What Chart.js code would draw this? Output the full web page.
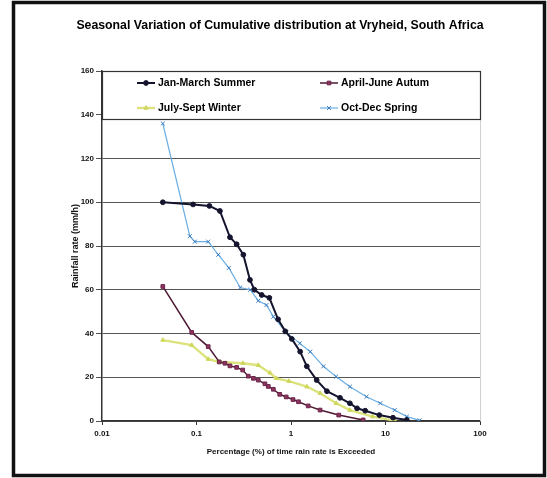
<!DOCTYPE html>
<html>
<head>
<meta charset="utf-8">
<script src="https://cdn.jsdelivr.net/npm/chart.js@4.4.1/dist/chart.umd.min.js"></script>
<style>
  html, body { margin: 0; padding: 0; background: #fff; }
  #wrap { width: 547px; height: 478px; position: relative; }
</style>
</head>
<body>
<div id="wrap"><canvas id="c" width="547" height="478"></canvas></div>
<script>
// Text
const chartTitle = 'Seasonal Variation of Cumulative distribution at Vryheid, South Africa';
const xAxisTitle = 'Percentage (%) of time rain rate is Exceeded';
const yAxisTitle = 'Rainfall rate (mm/h)';
const seriesNames = ['Jan-March Summer', 'April-June Autum', 'July-Sept Winter', 'Oct-Dec Spring'];

// Axis ticks
const xTicks = [0.01, 0.1, 1, 10, 100];
const xTickLabels = ['0.01', '0.1', '1', '10', '100'];
const yMin = 0, yMax = 160, yStep = 20;

// Percentage of time exceeded (x) and rain rate in mm/h (y), per season
const summerX = [0.044, 0.092, 0.137, 0.177, 0.226, 0.266, 0.313, 0.368, 0.41, 0.49, 0.59, 0.73, 0.87, 1.02, 1.25, 1.47, 1.87, 2.4, 3.3, 4.2, 5.0, 6.1, 8.6, 12, 16.8];
const summerY = [100, 99, 98.3, 96, 84, 80.8, 76, 64.5, 60, 57.6, 56.3, 46.5, 41, 37.5, 31.7, 25, 18.7, 13.6, 10.6, 8.1, 5.8, 4.7, 2.7, 1.5, 0.5];

const autumnX = [0.044, 0.089, 0.133, 0.174, 0.2, 0.226, 0.266, 0.308, 0.353, 0.4, 0.45, 0.53, 0.575, 0.65, 0.76, 0.89, 1.05, 1.2, 1.52, 2.03, 3.2, 5.8];
const autumnY = [61.5, 40.5, 34, 27, 26.4, 25.2, 24.5, 23.3, 20.5, 19.5, 18.7, 17, 15.8, 14.5, 12.2, 11, 9.8, 8.8, 6.9, 5, 2.7, 0.5];

const winterX = [0.044, 0.089, 0.133, 0.174, 0.31, 0.45, 0.6, 0.7, 0.95, 1.47, 2.03, 3.0, 4.2, 7.3, 12.5];
const winterY = [37, 34.7, 28.3, 27, 26.4, 25.5, 22, 19.5, 18.2, 15.7, 12.7, 8.1, 5, 2, 0.2];

const springX = [0.044, 0.085, 0.096, 0.133, 0.17, 0.22, 0.29, 0.37, 0.45, 0.55, 0.65, 0.89, 1.24, 1.6, 2.2, 3.0, 4.2, 6.3, 8.8, 12.5, 16.8, 23];
const springY = [136, 84.5, 82, 82, 76, 70, 61, 60, 55, 53, 47.7, 40.5, 35.5, 31.7, 25, 20.3, 15.7, 11.1, 8.1, 5, 2, 0.3];

const pairs = (xs, ys) => xs.map((x, i) => ({ x: x, y: ys[i] }));

const FONT = '"Liberation Sans", Arial, sans-serif';

const datasets = [
  {
    label: seriesNames[0], data: pairs(summerX, summerY),
    borderColor: '#14142e', backgroundColor: '#14142e', borderWidth: 2,
    pointStyle: 'circle', pointRadius: 2.4, pointBorderColor: '#14142e', pointBorderWidth: 1
  },
  {
    label: seriesNames[1], data: pairs(autumnX, autumnY),
    borderColor: '#4e1833', backgroundColor: '#8a3560', borderWidth: 1.5,
    pointStyle: 'rect', pointRadius: 2.6, pointBorderColor: '#6e2549', pointBorderWidth: 1
  },
  {
    label: seriesNames[2], data: pairs(winterX, winterY),
    borderColor: '#dde37c', backgroundColor: '#cfd75e', borderWidth: 2.4,
    pointStyle: 'triangle', pointRadius: 2.4, pointBorderColor: '#cfd75e', pointBorderWidth: 1
  },
  {
    label: seriesNames[3], data: pairs(springX, springY),
    borderColor: '#6aaee4', backgroundColor: '#3b7cbd', borderWidth: 1.2,
    pointStyle: 'crossRot', pointRadius: 2.8, pointBorderColor: '#3b7cbd', pointBorderWidth: 1
  }
];

// Chart title, outer frame and the boxed legend inside the plot
const decorations = {
  id: 'decorations',
  afterDatasetsDraw(chart) {
    const ctx = chart.ctx;
    const area = chart.chartArea;
    ctx.save();
    // faint right edge of the plot
    ctx.strokeStyle = '#d0d0d0';
    ctx.lineWidth = 1;
    ctx.beginPath();
    ctx.moveTo(area.right + 0.5, area.top);
    ctx.lineTo(area.right + 0.5, area.bottom);
    ctx.stroke();

    // legend box
    const bx = area.left, by = area.top, bw = area.right - area.left + 1, bh = 48;
    ctx.fillStyle = '#fff';
    ctx.fillRect(bx, by, bw, bh);
    ctx.strokeStyle = '#333';
    ctx.lineWidth = 1.2;
    ctx.strokeRect(bx + 0.5, by + 0.5, bw - 1, bh);

    const cols = [area.left + 35, area.left + 218];
    const rows = [area.top + 12, area.top + 37];
    ctx.font = 'bold 10.5px ' + FONT;
    ctx.textBaseline = 'middle';
    chart.data.datasets.forEach((ds, i) => {
      const x0 = cols[i % 2], y0 = rows[Math.floor(i / 2)];
      ctx.strokeStyle = ds.borderColor;
      ctx.lineWidth = ds.borderWidth;
      ctx.beginPath();
      ctx.moveTo(x0, y0);
      ctx.lineTo(x0 + 18, y0);
      ctx.stroke();
      ctx.fillStyle = ds.backgroundColor;
      ctx.strokeStyle = ds.pointBorderColor;
      ctx.lineWidth = ds.pointBorderWidth;
      Chart.helpers.drawPoint(ctx, {
        pointStyle: ds.pointStyle, radius: ds.pointRadius, rotation: 0, borderWidth: ds.pointBorderWidth
      }, x0 + 9, y0);
      ctx.fillStyle = '#000';
      ctx.fillText(ds.label, x0 + 21, y0 + 0.5);
    });
    ctx.restore();
  },
  afterDraw(chart) {
    const ctx = chart.ctx;
    ctx.save();
    ctx.fillStyle = '#000';
    ctx.font = 'bold 12.3px ' + FONT;
    ctx.textAlign = 'center';
    ctx.textBaseline = 'middle';
    ctx.fillText(chartTitle, 280, 26);
    ctx.strokeStyle = '#111';
    ctx.lineWidth = 3.5;
    ctx.strokeRect(13.5, 2.5, 531, 473);
    ctx.restore();
  }
};

new Chart(document.getElementById('c'), {
  type: 'line',
  data: { datasets: datasets },
  options: {
    responsive: false,
    animation: false,
    devicePixelRatio: 1,
    layout: { padding: { left: 0, right: 67, top: 71, bottom: 0 } },
    plugins: {
      legend: { display: false },
      title: { display: false },
      tooltip: { enabled: false }
    },
    elements: { line: { tension: 0 } },
    scales: {
      x: {
        type: 'logarithmic',
        min: xTicks[0],
        max: xTicks[xTicks.length - 1],
        afterBuildTicks(scale) { scale.ticks = xTicks.map(v => ({ value: v })); },
        afterFit(scale) { scale.height = 57; },
        ticks: {
          autoSkip: false, maxRotation: 0, padding: 4, color: '#111',
          font: { family: FONT, size: 8, weight: 'bold' },
          callback: (v, i) => xTickLabels[i]
        },
        grid: { drawOnChartArea: false, tickLength: 4, color: '#333' },
        border: { display: true, color: '#333', width: 1.5 },
        title: {
          display: true, text: xAxisTitle, color: '#111',
          font: { family: FONT, size: 8, weight: 'bold' },
          padding: { top: 0, bottom: 21 }
        }
      },
      y: {
        type: 'linear',
        min: yMin, max: yMax,
        afterFit(scale) { scale.width = 102; },
        ticks: {
          stepSize: yStep, padding: 2, color: '#111',
          font: { family: FONT, size: 8, weight: 'bold' }
        },
        grid: { color: '#555', lineWidth: 1, tickLength: 6 },
        border: { display: true, color: '#333', width: 1.5 },
        title: {
          display: true, text: yAxisTitle, color: '#111',
          font: { family: FONT, size: 9, weight: 'bold' },
          padding: { top: 70, bottom: 0 }
        }
      }
    }
  },
  plugins: [decorations]
});
</script>
</body>
</html>
